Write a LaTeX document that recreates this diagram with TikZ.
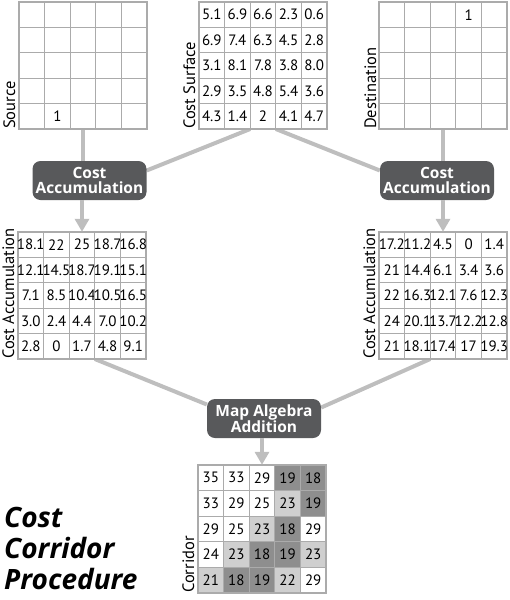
\documentclass[tikz,border=0pt]{standalone}
\usepackage{fontspec}
\setmainfont{PT Sans}
\newfontfamily\osans{Open Sans}
\usetikzlibrary{arrows.meta,backgrounds,calc,fit}
\definecolor{gridc}{HTML}{ABABAB}
\definecolor{connc}{HTML}{BEBEBE}
\definecolor{boxc}{HTML}{58595B}
\definecolor{darkc}{HTML}{8E8E8E}
\definecolor{lightc}{HTML}{CFCFCF}
\tikzset{
  cell/.style={draw=gridc, fill=white, line width=1.2pt, minimum width=25.6pt, minimum height=25.4pt, inner sep=0pt, outer sep=0pt},
  num/.style={inner sep=0pt, font=\fontsize{15}{15}\selectfont},
  lab/.style={rotate=90, anchor=base west, inner sep=0pt, font=\fontsize{16.5}{16.5}\selectfont},
  opbox/.style={fill=boxc, rounded corners=8pt, text=white, align=center, minimum width=114pt, minimum height=39pt, inner sep=1pt, font=\osans\bfseries\fontsize{15.5}{15.5}\selectfont},
  conn/.style={draw=connc, line width=4pt},
  arr/.style={conn, -{Triangle[length=13pt,width=14pt]}},
  ttl/.style={anchor=base west, inner sep=0pt, font=\osans\bfseries\itshape\fontsize{28}{28}\selectfont}
}
\newcommand\mkgrid[4]{%
  \foreach \row [count=\r] in {#4} {
    \foreach \v [count=\c] in \row {
      \node[cell] (#1-\r-\c) at ({#2+(\c-0.5)*25.6},{#3+(\r-0.5)*25.4}) {};
      \node[num] (#1-t-\r-\c) at (#1-\r-\c) {\v};
    }
  }
  \node[fit=(#1-1-1)(#1-5-5), inner sep=0pt] (#1) {};
}
\begin{document}
\begin{tikzpicture}[x=1pt,y=-1pt]
\useasboundingbox (0,0) rectangle (509,600);
% top grids
\mkgrid{src}{19}{2}{{{},{},{},{},{}},{{},{},{},{},{}},{{},{},{},{},{}},{{},{},{},{},{}},{{},1,{},{},{}}}
\mkgrid{cs}{199}{2}{{5.1,6.9,6.6,2.3,0.6},{6.9,7.4,6.3,4.5,2.8},{3.1,8.1,7.8,3.8,8.0},{2.9,3.5,4.8,5.4,3.6},{4.3,1.4,2,4.1,4.7}}
\mkgrid{dst}{379}{2}{{{},{},{},1,{}},{{},{},{},{},{}},{{},{},{},{},{}},{{},{},{},{},{}},{{},{},{},{},{}}}
% middle grids
\mkgrid{lacc}{18}{232}{{18.1,22,25,18.7,16.8},{12.1,14.5,18.7,19.1,15.1},{7.1,8.5,10.4,10.5,16.5},{3.0,2.4,4.4,7.0,10.2},{2.8,0,1.7,4.8,9.1}}
\mkgrid{racc}{379}{232}{{17.2,11.2,4.5,0,1.4},{21,14.4,6.1,3.4,3.6},{22,16.3,12.1,7.6,12.3},{24,20.1,13.7,12.2,12.8},{21,18.1,17.4,17,19.3}}
% corridor
\foreach \row [count=\r] in {{35/white,33/white,29/white,19/darkc,18/darkc},{33/white,29/white,25/white,23/lightc,19/darkc},{29/white,25/white,23/lightc,18/darkc,29/white},{24/white,23/lightc,18/darkc,19/darkc,23/lightc},{21/lightc,18/darkc,19/darkc,22/lightc,29/white}} {
  \foreach \v/\f [count=\c] in \row {
    \node[cell, fill=\f] (cor-\r-\c) at ({198+(\c-0.5)*25.6},{465+(\r-0.5)*25.6}) [minimum height=25.6pt] {};
    \node[num] (cor-t-\r-\c) at (cor-\r-\c) {\v};
  }
}
\node[fit=(cor-1-1)(cor-5-5), inner sep=0pt] (cor) {};
% labels
\node[lab] (lsrc) at (15,129) {Source};
\node[lab] (lcs) at (195,129) {Cost Surface};
\node[lab] (ldst) at (376,129) {Destination};
\node[lab] (llacc) at (14,359) {Cost Accumulation};
\node[lab] (lracc) at (375,359) {Cost Accumulation};
\node[lab] (lcor) at (194,593) {Corridor};
% operation boxes
\node[opbox] (lbox) at (89.5,180.5) {Cost\\Accumulation};
\node[opbox] (rbox) at (437,180.5) {Cost\\Accumulation};
\node[opbox] (mbox) at (264,418.5) {Map Algebra\\Addition};
% connectors
\begin{scope}[on background layer]
\draw[conn] (src.south) -- (src.south |- lbox.north);
\draw[conn] (dst.south) -- (dst.south |- rbox.north);
\draw[conn] (cs-5-3.south west) -- ([yshift=10pt]lbox.east);
\draw[conn] (cs-5-3.south east) -- ([yshift=10pt]rbox.west);
\draw[conn] (lacc-5-4.south west) -- ([yshift=14pt]mbox.west);
\draw[conn] (racc-5-3.south west) -- ([yshift=11pt]mbox.east);
\end{scope}
\draw[arr] (lacc.north |- lbox.south) -- (lacc.north);
\draw[arr] (racc.north |- rbox.south) -- (racc.north);
\draw[arr] (cor.north |- mbox.south) -- (cor.north);
% title
\node[ttl] (t1) at (4,527) {Cost};
\node[ttl] (t2) at (4,558) {Corridor};
\node[ttl] (t3) at (4,589) {Procedure};
\end{tikzpicture}
\end{document}
